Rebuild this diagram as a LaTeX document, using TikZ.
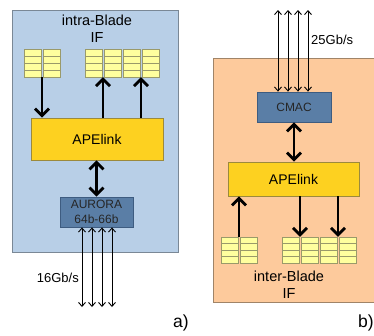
\documentclass[tikz,border=0pt]{standalone}
\usepackage{fontspec}
\setmainfont{Liberation Sans}
\usetikzlibrary{arrows.meta}
\definecolor{bluebg}{HTML}{B8CFE7}
\definecolor{blueedge}{HTML}{7A8896}
\definecolor{orangebg}{HTML}{FDCA9C}
\definecolor{orangeedge}{HTML}{A08468}
\definecolor{apefill}{HTML}{FDD120}
\definecolor{apeedge}{HTML}{9C8A3C}
\definecolor{macfill}{HTML}{5A7EA6}
\definecolor{macedge}{HTML}{3E5C80}
\definecolor{fifofill}{HTML}{FFFF9E}
\definecolor{fifoedge}{HTML}{9A9A6A}
\tikzset{
  panel/.style={line width=0.8pt},
  apebox/.style={draw=apeedge, fill=apefill, line width=0.8pt, font=\fontsize{14}{16}\selectfont},
  macbox/.style={draw=macedge, fill=macfill, line width=0.8pt, font=\fontsize{12}{14.5}\selectfont, text=black!85, align=center},
  fifocol/.style={draw=fifoedge, fill=fifofill, line width=0.6pt},
  fifoline/.style={draw=fifoedge, line width=0.6pt},
  thick arrow/.style={line width=2.8pt, -{Straight Barb[length=7pt,width=14pt]}},
  thick double/.style={line width=2.8pt, {Straight Barb[length=7pt,width=14pt]}-{Straight Barb[length=7pt,width=14pt]}},
  thin double/.style={line width=0.9pt, {Straight Barb[length=4pt,width=7pt]}-{Straight Barb[length=4pt,width=7pt]}},
  lbl/.style={font=\fontsize{14.5}{17}\selectfont, align=center, inner sep=0},
  speed/.style={font=\fontsize{13}{15}\selectfont, inner sep=0},
  tag/.style={font=\fontsize{17.5}{20}\selectfont, inner sep=0}
}
\newcommand{\fifopair}[4]{% name, left x, top y, height
  \foreach \c in {0,1}{
    \draw[fifocol] (#2+\c*19,#3) rectangle (#2+\c*19+17,#3+#4);
    \foreach \r in {1,2,3}
      \draw[fifoline] (#2+\c*19,#3+\r*#4/4) -- (#2+\c*19+17,#3+\r*#4/4);
  }
  \node[inner sep=0, minimum width=36pt, minimum height=#4 pt] (#1) at (#2+18,#3+#4/2) {};
}
\begin{document}
\begin{tikzpicture}[x=1pt,y=-1pt]
\useasboundingbox (0,0) rectangle (374,335);
% panel a
\draw[panel, fill=bluebg, draw=blueedge] (12,10) rectangle (178,252);
\node[lbl] (titleA) at (97,28.5) {intra-Blade\\IF};
\fifopair{fa1}{24}{49}{28}
\fifopair{fa2}{85}{49}{28}
\fifopair{fa3}{123}{49}{28}
\node[apebox, minimum width=132pt, minimum height=42pt, inner sep=0] (apeA) at (97,139) {APElink};
\node[macbox, minimum width=73pt, minimum height=30pt, inner sep=0] (aurora) at (96.5,212) {AURORA\\64b-66b};
\draw[thick arrow] (fa1.south) -- (fa1.south |- apeA.north);
\draw[thick arrow] (fa2.south |- apeA.north) -- (fa2.south);
\draw[thick arrow] (fa3.south |- apeA.north) -- (fa3.south);
\draw[thick double] (apeA.south -| aurora.north) -- (aurora.north);
\foreach \i/\xx in {1/82,2/92,3/102,4/112}{
  \coordinate (la\i) at (\xx,307);
  \draw[thin double] (aurora.south -| la\i) -- (la\i);
}
\node[speed, anchor=east] (spdA) at (79,278) {16Gb/s};
\node[tag] (tagA) at (181,323) {a)};
% panel b
\draw[panel, fill=orangebg, draw=orangeedge] (213,58) rectangle (380,302);
\node[macbox, minimum width=74pt, minimum height=30pt, inner sep=0] (cmac) at (294,107) {CMAC};
\node[apebox, minimum width=131pt, minimum height=34pt, inner sep=0] (apeB) at (293.5,179) {APElink};
\fifopair{fb1}{221}{237}{26}
\fifopair{fb2}{282}{237}{26}
\fifopair{fb3}{320}{237}{26}
\draw[thick arrow] (fb1.north) -- (fb1.north |- apeB.south);
\draw[thick arrow] (fb2.north |- apeB.south) -- (fb2.north);
\draw[thick arrow] (fb3.north |- apeB.south) -- (fb3.north);
\draw[thick double] (cmac.south) -- (cmac.south |- apeB.north);
\foreach \i/\xx in {1/278,2/288,3/298,4/308}{
  \coordinate (lb\i) at (\xx,10);
  \draw[thin double] (lb\i) -- (lb\i |- cmac.north);
}
\node[speed, anchor=west] (spdB) at (311,40) {25Gb/s};
\node[lbl] (titleB) at (289,285) {inter-Blade\\IF};
\node[tag] (tagB) at (366,323) {b)};
\end{tikzpicture}
\end{document}
